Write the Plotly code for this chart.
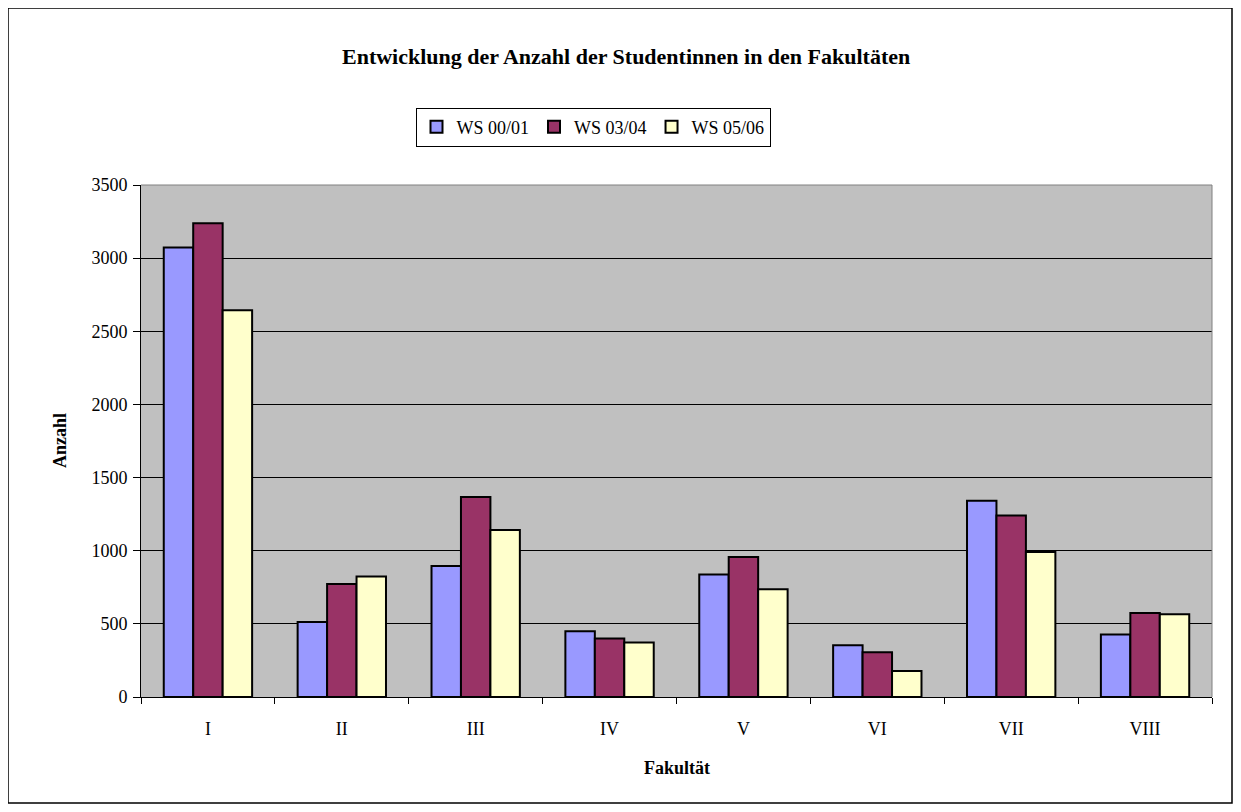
import plotly.graph_objects as go

categories = ["I", "II", "III", "IV", "V", "VI", "VII", "VIII"]
series_names = ["WS 00/01", "WS 03/04", "WS 05/06"]
ws_00_01 = [3073, 512, 895, 450, 838, 354, 1342, 427]
ws_03_04 = [3238, 772, 1368, 400, 957, 306, 1240, 575]
ws_05_06 = [2643, 824, 1142, 372, 737, 178, 991, 566]
colors = ["#9999FF", "#993366", "#FFFFCC"]
y_ticks = [0, 500, 1000, 1500, 2000, 2500, 3000, 3500]

W, H = 1241, 812
OFF = 8  # page body margin
# plot area in page pixel coordinates
L, R, T, B = 141, 1212, 185, 697
pw, ph = R - L, B - T

def px(x):
    return (x - L) / pw

def py(y):
    return (B - y) / ph

FONT = "Liberation Serif, Times New Roman, serif"

fig = go.Figure()
for name, vals, col in zip(series_names, [ws_00_01, ws_03_04, ws_05_06], colors):
    fig.add_trace(go.Bar(
        x=categories, y=vals, name=name,
        marker=dict(color=col, line=dict(color="black", width=2)),
    ))

fig.update_layout(
    width=W, height=H,
    margin=dict(l=L - OFF, r=W - (R - OFF), t=T - OFF, b=H - (B - OFF), pad=0),
    paper_bgcolor="white",
    plot_bgcolor="#C0C0C0",
    barmode="group",
    bargap=0.34,
    bargroupgap=0,
    font=dict(family=FONT, size=18, color="black"),
    showlegend=True,
    legend=dict(
        orientation="h",
        x=px(593), xanchor="center",
        y=py(127), yanchor="middle",
        bordercolor="black", borderwidth=1,
        bgcolor="white",
        font=dict(family=FONT, size=18, color="black"),
        itemwidth=30,
        traceorder="normal",
    ),
    xaxis=dict(
        showgrid=False,
        showline=True, linecolor="black", linewidth=1,
        ticks="outside", tickson="boundaries", ticklen=6, tickcolor="black",
        tickfont=dict(family=FONT, size=18, color="black"),
        ticklabelstandoff=15,
    ),
    yaxis=dict(
        range=[0, 3500],
        tickvals=y_ticks,
        showgrid=True, gridcolor="black", gridwidth=1,
        showline=True, linecolor="black", linewidth=1,
        ticks="outside", ticklen=7, tickcolor="black",
        tickfont=dict(family=FONT, size=18, color="black"),
        ticklabelstandoff=2,
        zeroline=False,
    ),
    shapes=[
        dict(type="line", xref="paper", yref="paper", x0=0, x1=1, y0=1, y1=1,
             line=dict(color="#808080", width=1)),
        dict(type="line", xref="paper", yref="paper", x0=1, x1=1, y0=0, y1=1,
             line=dict(color="#808080", width=1)),
        dict(type="rect", xref="paper", yref="paper",
             x0=px(8), x1=px(1232), y0=py(803), y1=py(8),
             line=dict(color="black", width=1.5), fillcolor="rgba(0,0,0,0)"),
    ],
    annotations=[
        dict(text="<b>Entwicklung der Anzahl der Studentinnen in den Fakultäten</b>",
             xref="paper", yref="paper",
             x=px(626), y=py(56), xanchor="center", yanchor="middle",
             showarrow=False,
             font=dict(family=FONT, size=22, color="black")),
        dict(text="<b>Anzahl</b>", xref="paper", yref="paper",
             x=px(60), y=py(441), xanchor="center", yanchor="middle",
             textangle=-90, showarrow=False,
             font=dict(family=FONT, size=18, color="black")),
        dict(text="<b>Fakultät</b>", xref="paper", yref="paper",
             x=px(677), y=py(768), xanchor="center", yanchor="middle",
             showarrow=False,
             font=dict(family=FONT, size=18, color="black")),
    ],
)

fig.write_html("out.html")
